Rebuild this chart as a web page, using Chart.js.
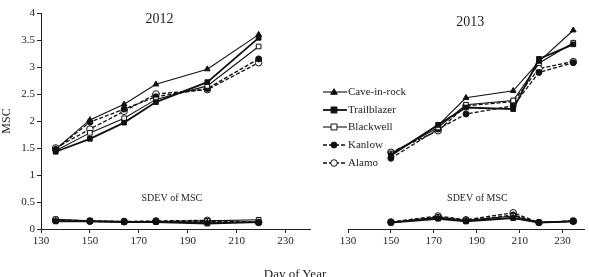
<!DOCTYPE html>
<html><head><meta charset="utf-8">
<script src="https://cdn.jsdelivr.net/npm/chart.js@4"></script>
<style>
html,body{margin:0;padding:0;background:#fff;}
#wrap{position:relative;width:589px;height:277px;overflow:hidden;font-family:"Liberation Serif","Times New Roman",serif;}
#c1{position:absolute;left:0;top:0;}
#c2{position:absolute;left:315px;top:0;}
#xt{position:absolute;left:250px;width:90px;text-align:center;top:266px;font-size:13px;color:#222;}
</style></head>
<body><div id="wrap">
<canvas id="c1" width="315" height="277"></canvas>
<canvas id="c2" width="274" height="277"></canvas>
<div id="xt">Day of Year</div>
</div>
<script>
const cultivars = ["Cave-in-rock","Trailblazer","Blackwell","Kanlow","Alamo"];
const xTicks = [130,150,170,190,210,230];
const yTicks = [0,0.5,1,1.5,2,2.5,3,3.5,4];

const days2012 = [136,150,164,177,198,219];
const cave2012   = [1.48,2.02,2.31,2.68,2.96,3.60];
const trail2012  = [1.43,1.67,1.97,2.35,2.72,3.54];
const black2012  = [1.45,1.78,2.05,2.40,2.65,3.38];
const kanlow2012 = [1.47,1.98,2.22,2.45,2.60,3.15];
const alamo2012  = [1.50,1.85,2.18,2.50,2.58,3.08];
const sdCave2012   = [0.15,0.14,0.13,0.13,0.12,0.13];
const sdTrail2012  = [0.14,0.14,0.13,0.13,0.10,0.13];
const sdBlack2012  = [0.18,0.15,0.14,0.14,0.15,0.17];
const sdKanlow2012 = [0.16,0.14,0.13,0.14,0.14,0.12];
const sdAlamo2012  = [0.17,0.15,0.14,0.15,0.16,0.12];

const days2013 = [150,172,185,207,219,235];
const cave2013   = [1.38,1.92,2.43,2.56,3.10,3.68];
const trail2013  = [1.36,1.93,2.25,2.22,3.15,3.42];
const black2013  = [1.40,1.88,2.30,2.38,3.07,3.45];
const kanlow2013 = [1.31,1.85,2.13,2.28,2.90,3.08];
const alamo2013  = [1.42,1.82,2.28,2.36,2.97,3.10];
const sdCave2013   = [0.12,0.20,0.15,0.21,0.12,0.14];
const sdTrail2013  = [0.12,0.19,0.14,0.20,0.12,0.14];
const sdBlack2013  = [0.12,0.22,0.16,0.24,0.12,0.15];
const sdKanlow2013 = [0.12,0.21,0.15,0.26,0.12,0.14];
const sdAlamo2013  = [0.13,0.24,0.17,0.30,0.12,0.15];

const INK = '#111';
const FONT = '"Liberation Serif","Times New Roman",serif';
const styles = [
  {pointStyle:'triangle', fill:INK, dash:[], lw:1.1, r:3.3},
  {pointStyle:'rect', fill:INK, dash:[], lw:1.8, r:3.3},
  {pointStyle:'rect', fill:'#fff', dash:[], lw:1.1, r:3.3},
  {pointStyle:'circle', fill:INK, dash:[4,2], lw:1.3, r:3.0},
  {pointStyle:'circle', fill:'#fff', dash:[4,2], lw:1.3, r:3.3}
];

function pts(days, vals){ return days.map((d,i)=>({x:d,y:vals[i]})); }
function mkSets(days, main, sd){
  const out=[];
  main.forEach((v,i)=>out.push(ds(cultivars[i], pts(days,v), styles[i])));
  sd.forEach((v,i)=>out.push(ds('SDEV '+cultivars[i], pts(days,v), styles[i])));
  return out;
}
function ds(label,data,s){
  return {label,data,showLine:true,borderColor:INK,backgroundColor:s.fill,
    borderWidth:s.lw,borderDash:s.dash,pointStyle:s.pointStyle,pointRadius:s.r,
    pointBorderColor:INK,pointBackgroundColor:s.fill,pointBorderWidth:1,tension:0};
}

const textPlugin = {
  id:'txt',
  afterDatasetsDraw(chart, args, opts){
    const ctx=chart.ctx, xs=chart.scales.x, ys=chart.scales.y;
    ctx.save();
    ctx.fillStyle='#222'; ctx.textAlign='center'; ctx.textBaseline='middle';
    (opts.items||[]).forEach(it=>{
      ctx.font = it.size+'px '+FONT;
      ctx.fillText(it.text, xs.getPixelForValue(it.x), ys.getPixelForValue(it.y));
    });
    ctx.restore();
  }
};

const legendPlugin = {
  id:'customLegend',
  afterDraw(chart, args, opts){
    if(!opts.show) return;
    const ctx=chart.ctx;
    const rows=[92,110,127,145,163];
    ctx.save();
    cultivars.forEach((name,i)=>{
      const s=styles[i], y=rows[i], x0=8, x1=32, xm=19;
      ctx.strokeStyle=INK; ctx.lineWidth=s.lw; ctx.setLineDash(s.dash);
      ctx.beginPath(); ctx.moveTo(x0,y); ctx.lineTo(x1,y); ctx.stroke();
      ctx.setLineDash([]); ctx.lineWidth=1; ctx.fillStyle=s.fill;
      ctx.beginPath();
      if(s.pointStyle==='circle'){ ctx.arc(xm,y,s.r,0,Math.PI*2); }
      else if(s.pointStyle==='rect'){ ctx.rect(xm-s.r*0.9,y-s.r*0.9,s.r*1.8,s.r*1.8); }
      else { ctx.moveTo(xm,y-s.r); ctx.lineTo(xm+s.r,y+s.r*0.7); ctx.lineTo(xm-s.r,y+s.r*0.7); ctx.closePath(); }
      ctx.fill(); ctx.stroke();
      ctx.fillStyle='#222'; ctx.font='11px '+FONT; ctx.textAlign='left'; ctx.textBaseline='middle';
      ctx.fillText(name, 33, y);
    });
    ctx.restore();
  }
};

function axisX(){
  return {type:'linear',min:130,max:240,
    afterBuildTicks(s){ s.ticks = xTicks.map(v=>({value:v})); },
    afterFit(s){ s.height=48; },
    border:{display:true,color:'#222',width:1},
    grid:{display:true,drawOnChartArea:false,drawTicks:true,tickLength:4,color:'#222'},
    ticks:{color:'#222',font:{family:FONT,size:11},padding:2,maxRotation:0,autoSkip:false,
      callback:v=>String(v)}
  };
}

Chart.defaults.animation=false;
Chart.defaults.responsive=false;

new Chart(document.getElementById('c1'),{
  type:'scatter',
  data:{datasets:mkSets(days2012,[cave2012,trail2012,black2012,kanlow2012,alamo2012],
        [sdCave2012,sdTrail2012,sdBlack2012,sdKanlow2012,sdAlamo2012])},
  options:{
    layout:{padding:{top:13,right:4,left:0,bottom:0}},
    plugins:{legend:{display:false},tooltip:{enabled:false},
      txt:{items:[{text:'2012',x:178.5,y:3.88,size:14},{text:'SDEV of MSC',x:183.5,y:0.56,size:10}]}},
    scales:{
      x:axisX(),
      y:{type:'linear',min:0,max:4,
        afterBuildTicks(s){ s.ticks = yTicks.map(v=>({value:v})); },
        afterFit(s){ s.width=41; },
        border:{display:true,color:'#222',width:1},
        grid:{display:true,drawOnChartArea:false,drawTicks:true,tickLength:4,color:'#222'},
        ticks:{color:'#222',font:{family:FONT,size:11},padding:2,callback:v=>String(v)},
        title:{display:true,text:'MSC',color:'#222',font:{family:FONT,size:12},padding:{top:0,bottom:0}}
      }
    }
  },
  plugins:[textPlugin]
});

new Chart(document.getElementById('c2'),{
  type:'scatter',
  data:{datasets:mkSets(days2013,[cave2013,trail2013,black2013,kanlow2013,alamo2013],
        [sdCave2013,sdTrail2013,sdBlack2013,sdKanlow2013,sdAlamo2013])},
  options:{
    layout:{padding:{top:13,right:0,left:33,bottom:0}},
    plugins:{legend:{display:false},tooltip:{enabled:false},customLegend:{show:true},
      txt:{items:[{text:'2013',x:187,y:3.83,size:14},{text:'SDEV of MSC',x:190.3,y:0.57,size:10}]}},
    scales:{
      x:axisX(),
      y:{type:'linear',min:0,max:4,display:false}
    }
  },
  plugins:[textPlugin,legendPlugin]
});
</script>
</body></html>
